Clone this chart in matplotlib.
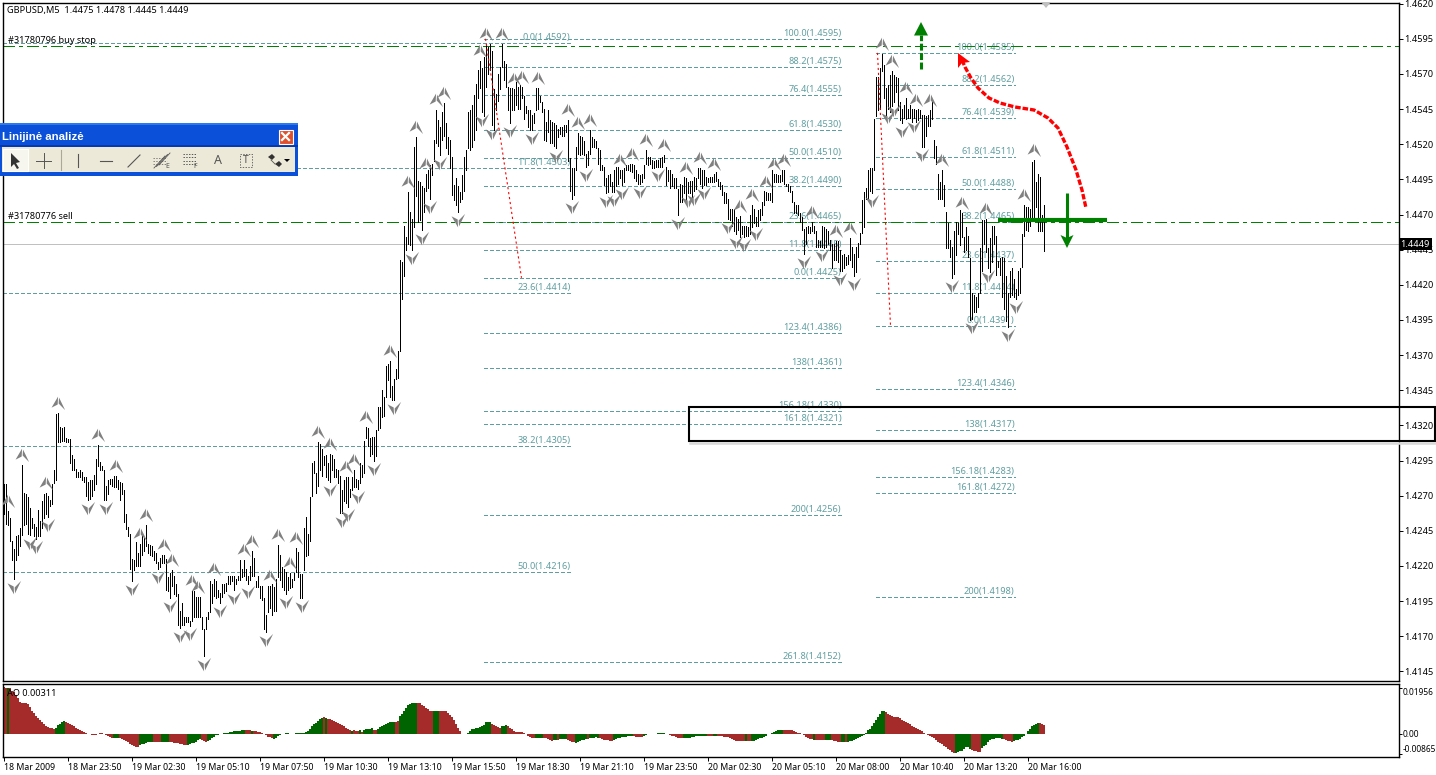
import numpy as np
import matplotlib
matplotlib.use('Agg')
import matplotlib.pyplot as plt
from matplotlib.patches import Rectangle, Polygon
from matplotlib.path import Path
from matplotlib.transforms import offset_copy, ScaledTranslation

plt.rcParams['font.family'] = ['Noto Sans', 'DejaVu Sans']
plt.rcParams['lines.scale_dashes'] = False

# 5 minute bars, pips above 1.4100
bar_high_pips = [
    178,178,159,154,138,132,141,142,147,192, 172,171,169,161,154,150,148,160,152,166,
    171,172,170,167,178,188,228,229,219,218, 219,211,210,210,199,196,189,187,188,187,
    183,183,180,181,181,185,196,206,194,191, 188,177,181,182,182,184,184,181,180,179,
    174,157,148,143,125,124,137,129,136,141, 140,149,136,135,134,131,129,123,126,128,
    128,125,112,115,117,113,107,100,88,94, 84,84,84,81,102,102,98,98,98,
    84,75,84,87,109,107,111,109,103,101, 107,107,108,113,113,113,113,111,113,124,
    118,124,118,113,120,131,126,109,113,106, 106,97,85,106,106,107,105,111,135,128,
    119,118,116,112,115,111,115,133,130,114, 114,147,155,143,169,193,195,186,208,207,
    203,198,199,193,200,199,196,189,188,184, 174,181,183,183,175,183,188,182,181,193,
    192,209,219,218,211,212,212,217,233,233, 245,240,262,264,266,248,253,260,273,338,
    336,362,354,386,372,367,418,425,394,393, 390,389,399,402,405,406,423,444,437,432,
    443,449,435,425,423,411,391,396,390,386, 398,411,416,443,444,448,455,463,473,479,
    474,482,491,489,491,486,459,456,470,475, 491,479,477,461,460,460,459,464,461,462,
    461,454,447,444,444,441,442,460,460,454, 450,445,436,444,437,436,435,434,431,432,
    432,434,434,437,410,403,403,418,428,426,
    425,422,413,415,430,425,424,422,417,416, 405,404,396,398,399,393,402,404,404,402,
    402,403,405,405,406,406,405,402,399,398, 399,405,416,411,411,409,408,409,409,410,
    411,412,404,402,402,399,396,396,388,392, 391,397,396,393,394,394,397,396,403,403,
    402,402,397,396,397,397,399,400,395,393, 391,386,385,381,374,374,374,368,367,369,
    362,362,362,361,370,377,374,368,373,374, 379,387,386,385,385,402,399,399,398,398,
    402,402,392,392,390,387,379,377,377,371, 368,360,361,362,361,365,362,358,352,351,
    362,361,360,358,352,349,349,351,351,345, 341,342,340,341,353,347,342,347,350,357,
    380,386,389,402,403,403,438,468,468,474, 484,476,460,462,469,472,469,468,467,450,
    445,448,453,445,448,445,445,444,445,444, 441,441,440,441,444,451,423,419,399,393,
    402,391,372,364,352,
    347,358,365,364,373,371,354,361,355,339, 314,313,311,314,346,366,366,367,346,353,
    362,362,355,337,339,340,339,326,314,330, 332,324,317,330,332,356,377,375,375,374,
    407,409,393,399,397,370,377]
bar_low_pips = [
    157,150,149,138,124,111,124,128,134,142, 149,150,143,142,147,141,139,141,141,147,
    154,157,155,163,164,179,181,208,208,209, 209,208,208,193,188,188,183,183,183,181,
    180,170,167,168,170,174,178,191,188,188, 167,167,171,178,177,176,176,175,167,171,
    151,146,141,118,109,117,120,120,120,128, 131,134,129,128,127,124,122,118,119,122,
    122,103,102,97,106,100,99,78,76,78, 78,80,80,77,81,84,84,84,84,
    75,56,75,82,87,94,99,97,98,94, 98,101,102,107,107,109,103,107,110,110,
    112,113,110,107,110,113,113,105,105,97, 96,75,73,87,90,85,88,88,112,110,
    105,103,100,103,104,105,110,116,112,97, 97,117,127,128,138,170,186,172,177,188,
    184,192,183,181,180,188,183,183,179,158, 158,166,165,162,169,174,176,176,175,179,
    183,186,211,205,198,200,195,198,217,218, 226,227,240,252,240,238,238,253,254,273,
    310,326,345,349,348,345,361,383,365,366, 359,372,387,389,381,398,408,421,419,412,
    423,426,417,413,403,384,380,377,372,379, 381,387,402,417,416,418,423,430,453,460,
    443,440,461,470,473,434,430,444,451,459, 475,466,461,444,435,444,444,448,445,445,
    453,438,442,432,430,430,435,444,445,450, 443,423,422,429,421,421,419,417,425,427,
    426,426,429,408,387,381,384,402,413,412,
    413,412,404,405,413,418,418,417,406,402, 402,391,385,386,390,386,386,390,392,396,
    391,393,402,402,401,400,396,394,392,392, 393,396,406,405,406,403,403,404,404,404,
    404,407,391,394,389,390,389,389,370,379, 379,385,380,385,385,381,387,388,396,392,
    389,391,391,393,393,393,393,394,390,388, 384,378,378,367,366,362,358,356,359,354,
    356,354,355,355,356,361,364,362,362,366, 370,377,380,380,380,379,393,393,393,393,
    394,392,390,387,386,379,371,371,370,365, 359,342,349,357,357,358,357,347,347,347,
    347,346,347,349,345,332,338,338,336,330, 330,332,334,335,338,333,326,329,340,349,
    357,361,381,381,387,385,402,440,444,445, 472,453,438,445,443,447,450,457,444,437,
    435,439,438,439,439,436,439,436,437,439, 418,418,426,433,433,438,410,406,381,381,
    381,376,346,346,340,
    325,328,341,356,348,354,343,345,340,295, 296,301,301,304,314,330,349,343,332,329,
    336,349,327,333,327,311,303,294,290,311, 313,311,310,313,314,333,355,359,358,362,
    367,367,375,358,358,358,344]

# fractal arrows, by bar number
fractal_up = [2,9,21,27,47,56,68,71,80,84,94,97,105,120,124,133,137,143,146,157,163,171,175,181,193,
              202,206,211,216,220,238,241,249,255,259,267,282,287,293,308,314,321,330,341,348,355,
              368,374,381,385,390,404,416,423,439,444,451,456,463,469,479,491,510,515]
fractal_down = [5,13,16,22,42,51,64,77,83,88,93,100,108,115,122,131,141,149,163,169,172,177,185,195,
                204,209,213,218,227,239,244,253,264,276,284,291,301,305,309,318,327,337,342,345,350,
                362,366,370,376,400,409,418,425,434,442,445,449,455,459,474,484,492,502,506]

# Awesome Oscillator, units of 0.0001
ao_values = [
    196,195,195,192,182,175,165,152,135,130,130,130,125,112,97,88,76,66,58,50,42,32,27,24,22,18,22,35,42,47,
    52,50,46,42,36,30,25,20,16,12,8,3,-1,-4,-7,-8,-8,-2,3,2,-1,-7,-12,-15,-17,-18,-18,-18,-20,-24,
    -28,-32,-38,-44,-50,-55,-56,-56,-50,-46,-43,-40,-38,-36,-37,-36,-37,-37,-36,-35,-35,-36,-36,-37,-38,-39,-40,-42,-44,-46,
    -48,-47,-47,-44,-42,-40,-36,-26,-24,-27,-32,-34,-30,-26,-18,-14,-8,-5,-2,0,2,3,4,7,8,10,10,11,12,15,
    15,15,15,14,12,10,10,8,5,2,-2,-8,-13,-16,-20,-22,-18,-12,-8,-4,-1,1,2,0,-2,-3,1,1,1,2,
    4,6,12,18,32,40,46,55,60,68,72,68,62,60,58,54,50,46,42,36,30,24,20,16,12,14,11,9,13,8,
    14,18,20,21,22,16,14,18,26,32,38,42,46,50,50,50,50,52,76,84,94,108,120,124,128,130,132,132,128,122,
    116,110,104,98,98,98,98,98,98,98,98,94,88,80,72,56,40,24,10,-1,-3,-3,4,12,18,20,22,24,26,30,
    36,50,50,50,42,36,32,28,24,30,33,35,30,24,18,10,7,7,6,
    6,3,-4,-9,-14,-21,-21,-20,-19,-17,-19,-20,-21,-24,-27,-30,-29,-27,-26,-24,-24,-24,-24,-26,-30,-34,-37,-40,-38,-33,
    -29,-26,-24,-23,-21,-20,-19,-16,-17,-20,-24,-26,-27,-29,-30,-30,-27,-23,-20,-17,-16,-14,-13,-11,-10,-10,-11,-13,-14,-16,
    -14,-10,-7,-4,-1,-1,-1,0,1,4,3,1,0,-3,-6,-9,-11,-14,-17,-19,-21,-20,-19,-17,-17,-16,-13,-11,-10,-10,
    -10,-9,-9,-9,-9,-9,-9,-10,-10,-10,-11,-13,-14,-16,-19,-23,-26,-30,-31,-31,-31,-31,-31,-31,-31,-30,-30,-27,-24,-21,
    -19,-14,-9,-3,0,4,6,9,13,14,16,16,16,16,14,14,10,7,4,1,-1,-6,-13,-19,-23,-24,-26,-27,-27,-27,
    -27,-27,-27,-29,-29,-29,-30,-31,-34,-34,-34,-34,-34,-34,-33,-30,-27,-24,-20,-14,-10,-6,4,13,21,33,44,56,70,81,
    94,97,91,83,77,73,71,71,70,64,59,54,51,46,40,34,29,23,19,14,10,4,0,-6,-10,-13,-19,-27,-34,-40,
    -46,-51,-59,-66,-71,-78,-84,-81,-78,-76,-73,-64,-57,-59,-64,-70,-73,-76,-78,-80,-63,-53,-47,-34,-29,-24,-23,-21,-20,-20,
    -23,-24,-27,-30,-33,-34,-31,-29,-26,-23,-16,-9,0,10,19,30,37,41,43,44,40,36]
# first and last bar of each green stretch, the rest is brown
ao_green_runs = [(2,2),(26,30),(55,57),(68,74),(79,82),(92,98),(102,120),(124,124),(135,143),(145,159),(161,161),
                 (174,174),(178,178),(180,184),(187,195),(198,206),(215,217),(232,243),(249,251),
                 (266,269),(275,276),(278,281),(286,291),(293,297),(305,314),(320,331),(340,351),(355,356),
                 (371,371),(374,389),(405,405),(411,413),(419,420),(422,440),(476,483),(489,499),(505,517)]

price_ticks = [1.4620,1.4595,1.4570,1.4545,1.4520,1.4495,1.4470,1.4445,1.4420,1.4395,
               1.4370,1.4345,1.4320,1.4295,1.4270,1.4245,1.4220,1.4195,1.4170,1.4145]
time_labels = ['18 Mar 2009','18 Mar 23:50','19 Mar 02:30','19 Mar 05:10','19 Mar 07:50','19 Mar 10:30',
               '19 Mar 13:10','19 Mar 15:50','19 Mar 18:30','19 Mar 21:10','19 Mar 23:50','20 Mar 02:30',
               '20 Mar 05:10','20 Mar 08:00','20 Mar 10:40','20 Mar 13:20','20 Mar 16:00']

# fibo sets: level name, price
fib_left = [('0.0',1.4592),('11.8',1.4503),('23.6',1.4414),('38.2',1.4305),('50.0',1.4216)]
fib_mid = [('100.0',1.4595),('88.2',1.4575),('76.4',1.4555),('61.8',1.4530),('50.0',1.4510),('38.2',1.4490),
           ('23.6',1.4465),('11.8',1.4445),('0.0',1.4425),('123.4',1.4386),('138',1.4361),('156.18',1.4330),
           ('161.8',1.4321),('200',1.4256),('261.8',1.4152)]
fib_right = [('100.0',1.4585),('88.2',1.4562),('76.4',1.4539),('61.8',1.4511),('50.0',1.4488),('38.2',1.4465),
             ('23.6',1.4437),('11.8',1.4414),('0.0',1.4391),('123.4',1.4346),('138',1.4317),('156.18',1.4283),
             ('161.8',1.4272),('200',1.4198)]
fib_spans = [(fib_left,-0.5,283.5),(fib_mid,240,419),(fib_right,436,505.5)]
trend_lines = [((241,259),(1.4595,1.4425)),((437,443.5),(1.4585,1.4391))]

buy_stop = 1.4590
sell_price = 1.4465
last_price = 1.4449

W, H = 1436, 775
TEAL = '#5f9ea0'
GREEN = '#008000'
FS = 6.6

fig = plt.figure(figsize=(W/100, H/100), dpi=100)

def px_axes(l, t, r, b):
    return fig.add_axes([l/W, 1-b/H, (r-l)/W, (b-t)/H])

ax = px_axes(2.5, 2.5, 1398.5, 681)
ax2 = px_axes(2.5, 683.5, 1398.5, 757)
for a in (ax, ax2):
    a.set_xlim(-0.5, 697.5)
    a.yaxis.tick_right()
    for s in a.spines.values():
        s.set_linewidth(1.0)
ax.set_ylim(1.41382, 1.46208)

bars = np.arange(len(bar_high_pips))
highs = 1.41 + np.array(bar_high_pips) / 10000
lows = 1.41 + np.array(bar_low_pips) / 10000

# fibo levels
for levels, x0, x1 in fib_spans:
    label_tr = offset_copy(ax.transData, fig=fig, y=5.5, units='dots')
    for name, price in levels:
        ax.plot([x0, x1], [price, price], color=TEAL, lw=0.7, ls=(0, (2.6, 2.0)), zorder=1, antialiased=False)
        ax.text(x1, price, '%s(%.4f)' % (name, price), color=TEAL, fontsize=FS, ha='right', va='center',
                transform=label_tr, zorder=2)

# order lines and last price
for price in (buy_stop, sell_price):
    ax.axhline(price, color=GREEN, lw=0.7, ls=(0, (8, 3.2, 2.2, 3.2)), zorder=2.5, antialiased=False)
ax.axhline(last_price, color='#c0c0c0', lw=0.7, zorder=1.5, antialiased=False)
order_tr = offset_copy(ax.transData, fig=fig, y=5, units='dots')
ax.text(2.5, buy_stop, '#31780796 buy stop', fontsize=FS, va='center', transform=order_tr, zorder=3)
ax.text(2.5, sell_price, '#31780776 sell', fontsize=FS, va='center', transform=order_tr, zorder=3)

# price bars
ax.vlines(bars, lows, highs, color='black', lw=0.7, zorder=3, antialiased=False)

# fractals: two wings with a slit between them
up_marker = Path([(-0.06, 1), (-1, -0.6), (-0.12, -0.15), (-0.06, 1),
                  (0.08, 0.85), (0.02, 0.0), (0.95, -0.95), (0.08, 0.85)],
                 [Path.MOVETO, Path.LINETO, Path.LINETO, Path.CLOSEPOLY,
                  Path.MOVETO, Path.LINETO, Path.LINETO, Path.CLOSEPOLY])
down_marker = Path([(-0.06, -1), (-1, 0.6), (-0.12, 0.15), (-0.06, -1),
                    (0.08, -0.85), (0.02, 0.0), (0.95, 0.95), (0.08, -0.85)],
                   [Path.MOVETO, Path.LINETO, Path.LINETO, Path.CLOSEPOLY,
                    Path.MOVETO, Path.LINETO, Path.LINETO, Path.CLOSEPOLY])
up_tr = offset_copy(ax.transData, fig=fig, y=10, units='dots')
down_tr = offset_copy(ax.transData, fig=fig, y=-8, units='dots')
ax.plot(bars[fractal_up], highs[fractal_up], ls='none', marker=up_marker, ms=10, color='#808080',
        mew=0, transform=up_tr, zorder=4)
ax.plot(bars[fractal_down], lows[fractal_down], ls='none', marker=down_marker, ms=10, color='#808080',
        mew=0, transform=down_tr, zorder=4)

# dotted fibo base lines
for xs, ys in trend_lines:
    ax.plot(xs, ys, color='red', lw=0.8, ls=(0, (1.6, 2.0)), zorder=5)

ax.set_xticks([])
ax.set_yticks(price_ticks)
ax.set_yticklabels(['%.4f' % p for p in price_ticks], fontsize=FS)
ax.tick_params(axis='y', length=3, width=0.7, pad=1.2)

ax.text(1.0015, last_price, '%.4f' % last_price, transform=ax.get_yaxis_transform(), color='white', fontsize=FS,
        va='center', ha='left', zorder=20, clip_on=False,
        bbox=dict(boxstyle='square,pad=0.2', fc='black', ec='black', lw=0))

# AO panel
ao = np.array(ao_values) / 10000
ao_colors = ['#a52a2a'] * len(ao)
for start, end in ao_green_runs:
    for i in range(start, end + 1):
        ao_colors[i] = '#006400'
ax2.bar(bars, ao, width=1.0, color=ao_colors, linewidth=0, antialiased=False, zorder=2)
ax2.set_ylim(-0.00997, 0.02128)
ax2.set_xticks(np.arange(len(time_labels)) * 32)
ax2.set_xticklabels(time_labels, fontsize=6.3, ha='left')
shift_left = ScaledTranslation(-1/100, 0, fig.dpi_scale_trans)
for lab in ax2.get_xticklabels():
    lab.set_transform(lab.get_transform() + shift_left)
ax2.tick_params(axis='x', length=3, width=0.7, pad=1.5)
ax2.set_yticks([0.01956, 0.0, -0.00865])
ax2.set_yticklabels(['0.01956', '0.00', '-0.00865'], fontsize=6.0)
ax2.tick_params(axis='y', length=2, width=0.7, pad=0.8)
ao_labels = ax2.get_yticklabels()
ao_labels[0].set_verticalalignment('top')
ao_labels[2].set_verticalalignment('bottom')
ax2.text(0.0032, 0.86, 'AO 0.00311', transform=ax2.transAxes, fontsize=FS, va='center', zorder=5)

# overlay in screen pixels: header, hand drawn marks, toolbar
ov = fig.add_axes([0, 0, 1, 1], zorder=10)
ov.set_xlim(0, W)
ov.set_ylim(H, 0)
ov.axis('off')
ov.patch.set_alpha(0)

ov.text(7, 10.5, 'GBPUSD,M5  1.4475 1.4478 1.4445 1.4449', fontsize=FS, va='center')
ov.add_patch(Polygon([(1041, 2), (1051, 2), (1046, 8)], fc='#c0c0c0', ec='none'))

# highlighted zone
ov.plot([690, 1436], [443, 443], color='#d8d8d8', lw=1.8)
ov.add_patch(Rectangle((688.5, 406.5), 746.5, 34, fill=False, ec='black', lw=1.5))

# green up arrow
ov.plot([921, 921], [69, 35], color=GREEN, lw=2.2, ls=(0, (5, 1.8)))
ov.add_patch(Polygon([(921, 22), (914, 35.5), (928, 35.5)], fc=GREEN, ec='none'))

# red curve
curve_x = [962,965,971,978,989,1000,1015,1034,1048,1058,1067,1076,1082,1086]
curve_y = [60,67,78,88,98,103,107,110,118,128,147,170,190,208]
ov.plot(curve_x, curve_y, color='red', lw=2.4, ls=(0, (4, 1.4)))
ov.add_patch(Polygon([(958, 53), (958, 68), (962, 63), (970, 62)], fc='red', ec='none'))

# green cross with down arrow
ov.plot([998, 1107], [220, 220], color=GREEN, lw=3.0, solid_capstyle='butt')
ov.plot([1067, 1067], [193, 238], color=GREEN, lw=2.2, solid_capstyle='butt')
ov.add_patch(Polygon([(1067, 248), (1060.5, 235), (1067, 238), (1073.5, 235)], fc=GREEN, ec='none'))

# toolbar window
ov.add_patch(Rectangle((0, 123), 298, 53, fc='#0a50d8', ec='none'))
ov.add_patch(Rectangle((0, 123), 298, 2, fc='#2c78ee', ec='none'))
ov.add_patch(Rectangle((0, 145), 298, 2, fc='#0838b0', ec='none'))
ov.add_patch(Rectangle((2, 147), 293, 25, fc='#ece9d8', ec='none'))
ov.text(2, 137, 'Linijinė analizė', color='white', fontsize=8.2, fontweight='bold', va='center',
        family=['Liberation Sans', 'DejaVu Sans'])
ov.add_patch(Rectangle((278.5, 129.5), 14, 14, fc='#e0502c', ec='white', lw=0.8))
ov.plot([282, 289], [133, 140], color='white', lw=1.6)
ov.plot([289, 282], [133, 140], color='white', lw=1.6)

ICON = '#555555'
ov.add_patch(Rectangle((3, 148.5), 25, 22, fc='#f6f5ee', ec='white', lw=0.8))
ov.add_patch(Polygon([(11, 153), (11, 167), (14, 164), (17, 169), (19, 168), (16, 163), (20, 162)], fc='#333333', ec='none'))
ov.plot([36, 51], [161, 161], color=ICON, lw=0.7)
ov.plot([43.5, 43.5], [153, 168], color=ICON, lw=0.7)
ov.plot([60.5, 60.5], [150, 170], color='#aca899', lw=0.8)
ov.plot([77.5, 77.5], [154, 167], color=ICON, lw=0.8)
ov.plot([100, 112], [161, 161], color=ICON, lw=0.8)
ov.plot([128, 140], [167, 155], color=ICON, lw=0.8)
for k in range(3):
    ov.plot([154 + 2.5*k, 165 + 2.5*k], [167 - 1.5*k + 1, 155 - 1.5*k + 1], color=ICON, lw=0.6)
    ov.plot([153, 167], [158 + 3*k, 158 + 3*k], color=ICON, lw=0.5, ls=(0, (1, 1)))
ov.text(167, 167, 'E', fontsize=5, fontweight='bold', color=ICON, ha='center', va='center')
for k in range(4):
    ov.plot([183, 196], [153.5 + 3.5*k, 153.5 + 3.5*k], color=ICON, lw=0.7, ls=(0, (1, 1)))
ov.text(195, 167, 'F', fontsize=5, fontweight='bold', color=ICON, ha='center', va='center')
ov.text(217.5, 161, 'A', fontsize=9, fontweight='bold', color=ICON, ha='center', va='center')
ov.add_patch(Rectangle((239.5, 153.5), 12, 13, fill=False, ec=ICON, lw=0.6, ls=(0, (1, 1))))
ov.text(245.5, 160.5, 'T', fontsize=7.5, fontweight='bold', color=ICON, ha='center', va='center')
ov.add_patch(Polygon([(268, 157), (272, 154), (275, 157), (272, 160)], fc='#333333', ec='none'))
ov.add_patch(Polygon([(275, 164), (279, 161), (282, 164), (279, 167)], fc='#333333', ec='none'))
ov.plot([271, 275], [160, 164], color=ICON, lw=0.6)
ov.add_patch(Polygon([(284, 159), (290, 159), (287, 162)], fc='black', ec='none'))

fig.savefig('out.png', dpi=100)
